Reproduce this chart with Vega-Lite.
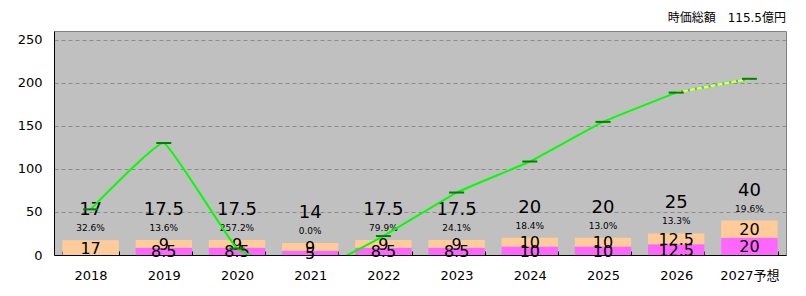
{
  "$schema": "https://vega.github.io/schema/vega-lite/v6.json",
  "width": 732,
  "height": 224,
  "autosize": {"type": "none"},
  "padding": {"left": 54, "top": 31, "right": 20, "bottom": 41},
  "background": "white",
  "title": {"text": "時価総額　115.5億円", "anchor": "end", "frame": "group", "font": "DejaVu Sans, Noto Sans CJK JP", "fontSize": 12, "fontWeight": "normal", "color": "black", "offset": 6},
  "config": {
    "view": {"stroke": "#808080", "fill": "#C0C0C0"},
    "font": "DejaVu Sans, Noto Sans CJK JP"
  },
  "data": {"values": [
    {"year": "2018", "pink": 0, "orange": 17, "total": 17, "pct": "32.6%", "line": 53},
    {"year": "2019", "pink": 8.5, "orange": 9, "total": 17.5, "pct": "13.6%", "line": 130},
    {"year": "2020", "pink": 8.5, "orange": 9, "total": 17.5, "pct": "257.2%", "line": 7.5},
    {"year": "2021", "pink": 5, "orange": 9, "total": 14, "pct": "0.0%", "line": -20},
    {"year": "2022", "pink": 8.5, "orange": 9, "total": 17.5, "pct": "79.9%", "line": 22},
    {"year": "2023", "pink": 8.5, "orange": 9, "total": 17.5, "pct": "24.1%", "line": 72.5},
    {"year": "2024", "pink": 10, "orange": 10, "total": 20, "pct": "18.4%", "line": 108.5},
    {"year": "2025", "pink": 10, "orange": 10, "total": 20, "pct": "13.0%", "line": 154.5},
    {"year": "2026", "pink": 12.5, "orange": 12.5, "total": 25, "pct": "13.3%", "line": 188.5},
    {"year": "2027予想", "pink": 20, "orange": 20, "total": 40, "pct": "19.6%", "line": 204.5}
  ]},
  "encoding": {
    "x": {
      "field": "year", "type": "nominal", "sort": null,
      "scale": {"paddingInner": 0.23, "paddingOuter": 0.115},
      "axis": {"title": null, "labelAngle": 0, "labelFontSize": 13, "labelColor": "black", "domainColor": "black", "tickColor": "black", "tickBand": "extent", "tickSize": -4, "labelPadding": 18, "grid": false}
    }
  },
  "layer": [
    {
      "transform": [
        {"fold": ["pink", "orange"], "as": ["key", "value"]},
        {"filter": "datum.value > 0"},
        {"stack": "value", "groupby": ["year"], "sort": [{"field": "key", "order": "descending"}], "as": ["y0", "y1"]}
      ],
      "mark": {"type": "bar"},
      "encoding": {
        "y": {"field": "y0", "type": "quantitative", "scale": {"domain": [0, 250]},
          "axis": {"title": null, "values": [0, 50, 100, 150, 200, 250], "ticks": false, "labelFontSize": 13, "labelColor": "black", "labelPadding": 12, "domainColor": "black", "grid": true, "gridColor": "#8c8c8c", "gridDash": [4, 3]}},
        "y2": {"field": "y1"},
        "color": {"field": "key", "type": "nominal", "scale": {"domain": ["pink", "orange"], "range": ["#FF66FF", "#FFCC99"]}, "legend": null}
      }
    },
    {
      "transform": [
        {"fold": ["pink", "orange"], "as": ["key", "value"]},
        {"filter": "datum.value > 0"},
        {"stack": "value", "groupby": ["year"], "sort": [{"field": "key", "order": "descending"}], "as": ["y0", "y1"]},
        {"calculate": "(datum.y0 + datum.y1) / 2", "as": "mid"}
      ],
      "mark": {"type": "text", "fontSize": 16, "color": "black", "baseline": "middle", "dy": 1},
      "encoding": {
        "y": {"field": "mid", "type": "quantitative"},
        "text": {"field": "value", "type": "quantitative"}
      }
    },
    {
      "mark": {"type": "text", "fontSize": 18, "color": "black", "baseline": "middle", "dy": -30},
      "encoding": {
        "y": {"field": "total", "type": "quantitative"},
        "text": {"field": "total", "type": "quantitative"}
      }
    },
    {
      "mark": {"type": "text", "fontSize": 9, "color": "black", "baseline": "middle", "dy": -12},
      "encoding": {
        "y": {"field": "total", "type": "quantitative"},
        "text": {"field": "pct", "type": "nominal"}
      }
    },
    {
      "transform": [{"filter": "datum.year != '2027予想'"}],
      "mark": {"type": "line", "color": "#00FF00", "strokeWidth": 2, "interpolate": "cardinal", "tension": 0.7, "clip": true},
      "encoding": {"y": {"field": "line", "type": "quantitative"}}
    },
    {
      "transform": [{"filter": "datum.year == '2026' || datum.year == '2027予想'"}],
      "mark": {"type": "line", "color": "#00CCFF", "strokeWidth": 2.5, "clip": true},
      "encoding": {"y": {"field": "line", "type": "quantitative"}}
    },
    {
      "transform": [{"filter": "datum.year == '2026' || datum.year == '2027予想'"}],
      "mark": {"type": "line", "color": "#FFFF00", "strokeWidth": 2.5, "strokeDash": [5, 2], "clip": true},
      "encoding": {"y": {"field": "line", "type": "quantitative"}}
    },
    {
      "mark": {"type": "tick", "color": "#008000", "size": 15, "thickness": 2, "clip": true, "opacity": 1},
      "encoding": {"y": {"field": "line", "type": "quantitative"}}
    }
  ]
}
